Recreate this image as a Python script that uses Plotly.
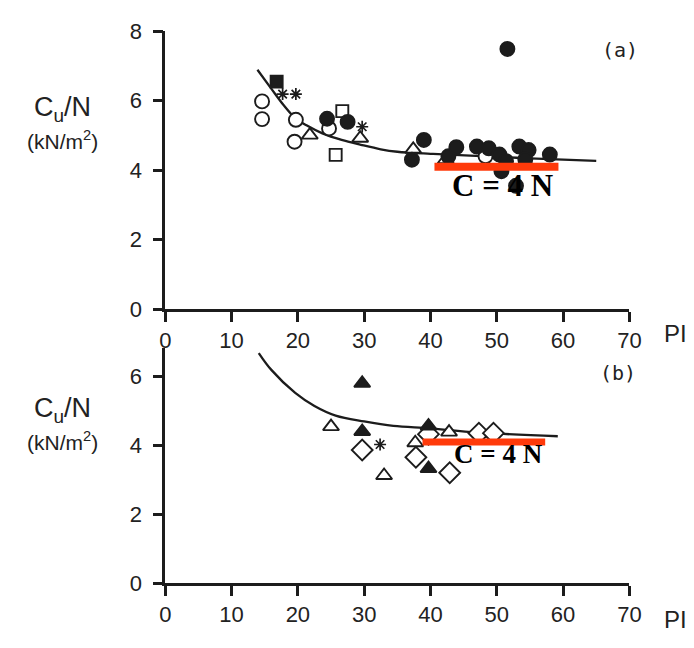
import plotly.graph_objects as go

# ---------------- data: panel (a) ----------------
curve_a_x = [13.9, 15.9, 17.9, 19.6, 21.3, 23.7, 26.6, 29.5, 32.5, 35, 40, 46, 55, 65]
curve_a_y = [6.89, 6.37, 5.86, 5.50, 5.29, 5.06, 4.87, 4.73, 4.60, 4.53, 4.47, 4.42, 4.34, 4.27]

open_circle_a_x = [14.6, 14.6, 19.7, 19.5, 24.7, 48.3]
open_circle_a_y = [5.98, 5.47, 5.45, 4.82, 5.20, 4.40]
filled_circle_a_x = [24.4, 27.5, 37.2, 39.0, 42.7, 43.9, 47.0, 48.8, 50.4, 51.4, 51.6,
                     53.4, 54.8, 54.3, 58.0, 50.7, 52.9]
filled_circle_a_y = [5.48, 5.39, 4.30, 4.87, 4.40, 4.66, 4.68, 4.63, 4.45, 4.26, 7.49,
                     4.68, 4.58, 4.31, 4.45, 3.97, 3.55]
filled_square_a_x = [16.8]
filled_square_a_y = [6.55]
open_square_a_x = [26.7, 25.7]
open_square_a_y = [5.70, 4.44]
open_triangle_a_x = [21.8, 29.4, 37.4, 42.3]
open_triangle_a_y = [5.01, 4.92, 4.60, 4.30]
star_a_x = [17.7, 19.7, 29.7]
star_a_y = [6.19, 6.19, 5.25]
red_a_x = [40.6, 59.3]
red_a_y = [4.1, 4.1]

# ---------------- data: panel (b) ----------------
curve_b_x = [14.1, 16.0, 19.6, 22.5, 25.7, 30.0, 34.4, 40.0, 47.0, 59.2]
curve_b_y = [6.69, 6.20, 5.53, 5.15, 4.87, 4.70, 4.57, 4.50, 4.38, 4.27]

filled_triangle_b_x = [29.7, 29.7, 39.7, 39.7]
filled_triangle_b_y = [5.81, 4.41, 4.57, 3.33]
open_triangle_b_x = [25.0, 33.0, 37.7, 42.8]
open_triangle_b_y = [4.55, 3.13, 4.08, 4.39]
open_diamond_b_x = [29.7, 37.8, 39.7, 42.9, 47.3, 49.5]
open_diamond_b_y = [3.87, 3.66, 4.33, 3.21, 4.36, 4.36]
star_b_x = [32.4]
star_b_y = [4.03]
red_b_x = [38.8, 57.3]
red_b_y = [4.1, 4.1]

x_ticks = [0, 10, 20, 30, 40, 50, 60, 70]
y_ticks_a = [0, 2, 4, 6, 8]
y_ticks_b = [0, 2, 4, 6]

BLACK = "#1c1c1c"
RED = "#ff3a0a"

fig = go.Figure()


def curve(x, y, xa, ya):
    fig.add_trace(go.Scatter(x=x, y=y, mode="lines", xaxis=xa, yaxis=ya,
                             line=dict(color=BLACK, width=2.3, shape="spline"),
                             showlegend=False, hoverinfo="skip"))


def pts(x, y, symbol, filled, size, xa, ya):
    if symbol.startswith("asterisk"):
        marker = dict(symbol=symbol, size=size, color=BLACK,
                      line=dict(color=BLACK, width=1.7))
    else:
        marker = dict(symbol=symbol, size=size,
                      color=BLACK if filled else "white",
                      line=dict(color=BLACK, width=1.9))
    fig.add_trace(go.Scatter(x=x, y=y, mode="markers", xaxis=xa, yaxis=ya,
                             marker=marker, showlegend=False))


# panel (a)
curve(curve_a_x, curve_a_y, "x", "y")
pts(open_circle_a_x, open_circle_a_y, "circle", False, 14, "x", "y")
pts(open_square_a_x, open_square_a_y, "square", False, 12, "x", "y")
pts(open_triangle_a_x, open_triangle_a_y, "triangle-up", False, 14, "x", "y")
pts(filled_circle_a_x, filled_circle_a_y, "circle", True, 14, "x", "y")
pts(filled_square_a_x, filled_square_a_y, "square", True, 12, "x", "y")
pts(star_a_x, star_a_y, "asterisk-open", True, 10, "x", "y")
fig.add_trace(go.Scatter(x=red_a_x, y=red_a_y, mode="lines", xaxis="x", yaxis="y",
                         line=dict(color=RED, width=8), showlegend=False))

# panel (b)
curve(curve_b_x, curve_b_y, "x2", "y2")
pts(open_triangle_b_x, open_triangle_b_y, "triangle-up", False, 14, "x2", "y2")
pts(open_diamond_b_x, open_diamond_b_y, "diamond", False, 16, "x2", "y2")
pts(filled_triangle_b_x, filled_triangle_b_y, "triangle-up", True, 14, "x2", "y2")
pts(star_b_x, star_b_y, "asterisk-open", True, 10, "x2", "y2")
fig.add_trace(go.Scatter(x=red_b_x, y=red_b_y, mode="lines", xaxis="x2", yaxis="y2",
                         line=dict(color=RED, width=7), showlegend=False))

W, H = 694, 648
xdom = [163.5 / W, 640 / W]
ydom_a = [(H - 309) / H, (H - 20) / H]
ydom_b = [(H - 594) / H, (H - 349) / H]

tickfont = dict(family="Liberation Sans, Arial, sans-serif", size=22, color="#222")
axis_common = dict(showline=True, linewidth=2.5, linecolor=BLACK, ticks="outside",
                   ticklen=10, tickwidth=2.5, tickcolor=BLACK, showgrid=False,
                   zeroline=False, tickfont=tickfont, fixedrange=True)

fig.update_layout(
    width=W, height=H,
    margin=dict(l=0, r=0, t=0, b=0),
    paper_bgcolor="white", plot_bgcolor="rgba(0,0,0,0)",
    xaxis=dict(domain=xdom, range=[0, 70], tickvals=x_ticks, anchor="y", **axis_common),
    yaxis=dict(domain=ydom_a, range=[0, 8], tickvals=y_ticks_a, anchor="x",
               ticklabelstandoff=6, **axis_common),
    xaxis2=dict(domain=xdom, range=[0, 70], tickvals=x_ticks, anchor="y2", **axis_common),
    yaxis2=dict(domain=ydom_b, range=[0, 6.85], tickvals=y_ticks_b, anchor="x2",
                ticklabelstandoff=6, **axis_common),
)

ann = []


def px(xp, yp, text, font, xanchor="center"):
    ann.append(dict(x=xp / W, y=(H - yp) / H, xref="paper", yref="paper", text=text,
                    xanchor=xanchor, yanchor="middle", showarrow=False, font=font))


serif = dict(family="Liberation Serif, Times New Roman, serif", size=31, color="black")
ann.append(dict(x=50.9, y=3.56, xref="x", yref="y", text="<b>C = 4 N</b>",
                xanchor="center", yanchor="middle", showarrow=False, font=serif))
ann.append(dict(x=50.3, y=3.75, xref="x2", yref="y2", text="<b>C = 4 N</b>",
                xanchor="center", yanchor="middle", showarrow=False,
                font=dict(serif, size=27)))

mono = dict(family="DejaVu Sans Mono, monospace", size=20, color="#222")
px(630, 40, "(a)", mono)
px(628, 376, "(b)", mono)

px(673, 334, "PI", dict(tickfont, size=24), xanchor="left")
px(673, 632, "PI", dict(tickfont, size=24), xanchor="left")

lab = dict(family="Liberation Sans, Arial, sans-serif", size=22, color="#222")
for cy, ky in ((101, 133), (414, 446)):
    px(58, cy, "C<sub>u</sub>/N", dict(lab, size=27))
    px(58, ky, "(kN/m<sup>2</sup>)", dict(lab, size=21))

fig.update_layout(annotations=ann)
fig.write_html("out.html")
